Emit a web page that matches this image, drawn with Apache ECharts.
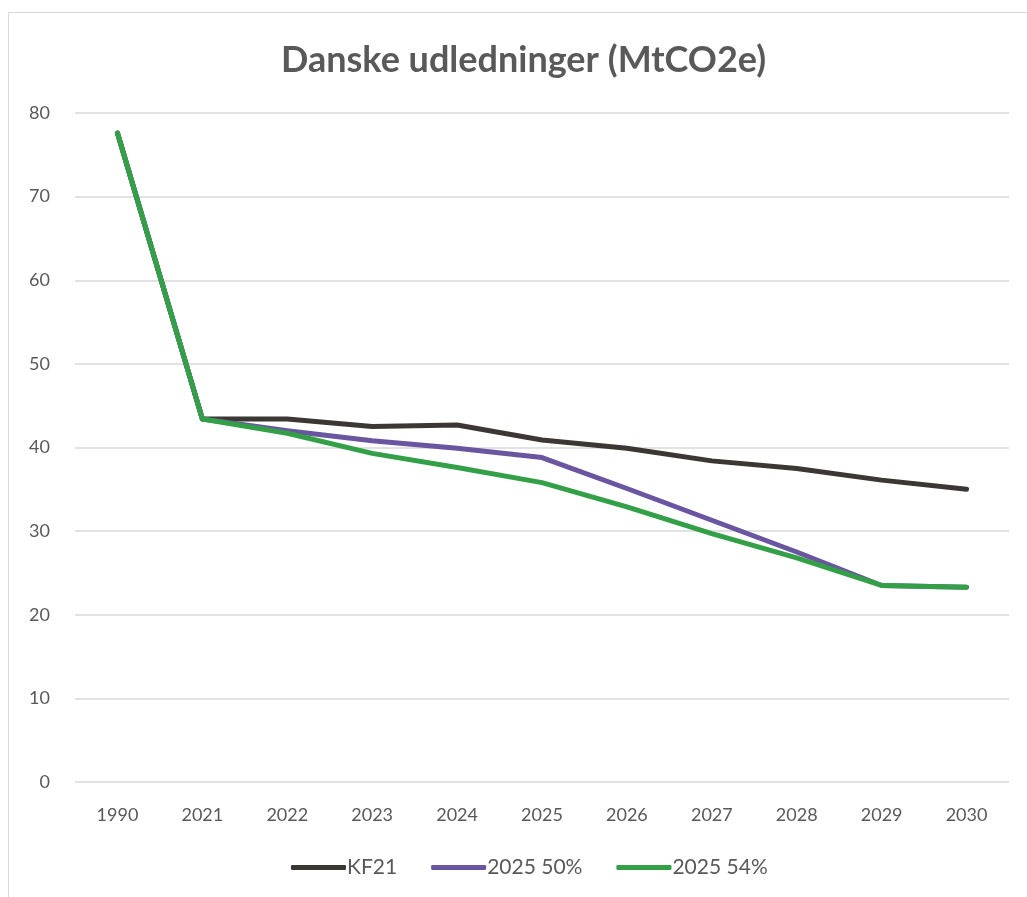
<!DOCTYPE html>
<html>
<head>
<meta charset="utf-8">
<title>Danske udledninger</title>
<script src="https://cdn.jsdelivr.net/npm/echarts@6/dist/echarts.min.js"></script>
<style>
  html, body { margin: 0; padding: 0; background: #fff; }
  #chart { position: absolute; left: 0; top: 0; width: 1027px; height: 897px; }
  #frame { position: absolute; left: 8px; top: 12px; width: 1030px; height: 900px; border: 1px solid #d9d9d9; box-sizing: border-box; }
</style>
</head>
<body>
<div id="frame"></div>
<div id="chart"></div>
<script>
  var years = ['1990', '2021', '2022', '2023', '2024', '2025', '2026', '2027', '2028', '2029', '2030'];
  var kf21 = [77.6, 43.4, 43.4, 42.5, 42.7, 40.9, 39.9, 38.4, 37.5, 36.1, 35.0];
  var plan50 = [77.6, 43.4, 42.0, 40.8, 39.9, 38.8, 35.1, 31.3, 27.5, 23.5, 23.3];
  var plan54 = [77.6, 43.4, 41.7, 39.3, 37.6, 35.8, 32.9, 29.7, 26.8, 23.5, 23.3];

  var font = 'Lato, "Open Sans", sans-serif';
  var textColor = '#595959';

  var myChart = echarts.init(document.getElementById('chart'));

  function line(name, data, color) {
    return {
      name: name,
      type: 'line',
      data: data,
      symbol: 'none',
      lineStyle: { width: 5, color: color, cap: 'round', join: 'round' },
      itemStyle: { color: color },
      emphasis: { disabled: true }
    };
  }

  var option = {
    animation: false,
    title: {
      text: 'Danske udledninger (MtCO2e)',
      left: 276,
      top: 37,
      textStyle: { fontFamily: font, fontSize: 36, fontWeight: 'bold', color: textColor }
    },
    legend: {
      bottom: 14,
      left: 286,
      itemWidth: 55,
      itemHeight: 5,
      itemGap: 34,
      icon: 'roundRect',
      textStyle: { fontFamily: font, fontSize: 21, color: textColor, padding: [0, 0, 0, -4] },
      data: ['KF21', '2025 50%', '2025 54%']
    },
    grid: { left: 75, right: 18, top: 113, bottom: 115, containLabel: false },
    xAxis: {
      type: 'category',
      data: years,
      boundaryGap: true,
      axisLine: { show: false },
      axisTick: { show: false },
      axisLabel: { margin: 24, fontFamily: font, fontSize: 18, color: textColor }
    },
    yAxis: {
      type: 'value',
      min: 0,
      max: 80,
      interval: 10,
      axisLine: { show: false },
      axisTick: { show: false },
      axisLabel: { margin: 25, fontFamily: font, fontSize: 18, color: textColor },
      splitLine: { lineStyle: { color: '#d9d9d9', width: 1.5 } }
    },
    series: [
      line('KF21', kf21, '#3b3733'),
      line('2025 50%', plan50, '#6a55a0'),
      line('2025 54%', plan54, '#33a048')
    ]
  };

  myChart.setOption(option);
</script>
</body>
</html>
